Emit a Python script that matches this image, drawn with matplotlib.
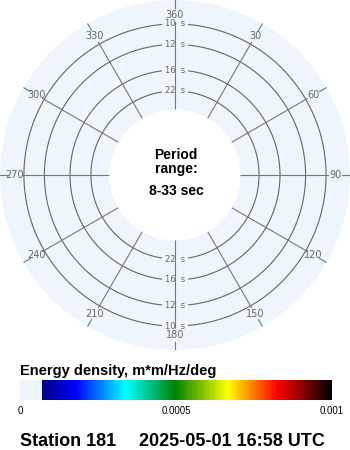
import numpy as np
import matplotlib
matplotlib.use("Agg")
import matplotlib.pyplot as plt
from matplotlib.colors import LinearSegmentedColormap, Normalize
from matplotlib.cm import ScalarMappable

# Data
ring_periods = [10, 12, 16, 22]          # seconds
period_min, period_max = 8.37, 33        # outer edge / inner hole
range_text = '8-33 sec'
spoke_angles = [0, 30, 60, 90, 120, 150, 180, 210, 240, 270, 300, 330]
spoke_labels = ['360', '30', '60', '90', '120', '150', '180', '210', '240', '270', '300', '330']
cbar_ticks = [0, 0.0005, 0.001]
cbar_ticklabels = ['0', '0.0005', '0.001']
cbar_min, cbar_max = 0.0, 0.001
cbar_stops = [(0.0, '#eef5fd'), (0.0675, '#eef5fd'), (0.068, '#000080'), (0.177, '#0000ff'),
              (0.338, '#00ffff'), (0.498, '#008000'), (0.666, '#ffff00'),
              (0.826, '#ff0000'), (1.0, '#000000')]
station = 'Station 181'
timestamp = '2025-05-01 16:58 UTC'

bg = '#eef5fd'
W, H = 350, 450

fig = plt.figure(figsize=(3.5, 4.5), dpi=100)

# polar axes: radius is frequency (1/period)
R_px = 175.0
fmax = 1.0 / period_min
fmin = 1.0 / period_max
ro = -0.02296

ax = fig.add_axes([0, 100 / H, 1, 350 / H], projection='polar')
ax.set_theta_zero_location('N')
ax.set_theta_direction(-1)
ax.set_rorigin(ro)
ax.set_ylim(fmin, fmax)
ax.axis('off')

theta = np.linspace(0, 2 * np.pi, 721)
ax.fill_between(theta, fmin, fmax, color=bg, lw=0, zorder=0)


def px2r(p):
    return ro + p * (fmax - ro) / R_px


for T in ring_periods:
    ax.plot(theta, np.full_like(theta, 1.0 / T), color='#666666', lw=0.8, zorder=2)
    for a in (0, np.pi):
        ax.text(a, 1.0 / T, f'{T}  s', ha='center', va='center', fontsize=6,
                color='#666666', zorder=3,
                bbox=dict(boxstyle='square,pad=0.3', fc=bg, ec='none'))

for ang, lab in zip(spoke_angles, spoke_labels):
    t = np.deg2rad(ang)
    ax.plot([t, t], [fmin, px2r(153)], color='#777777', lw=0.8, zorder=4)
    ax.plot([t, t], [px2r(167), px2r(175)], color='#777777', lw=0.8, zorder=4)
    ax.text(t, px2r(160), lab, ha='center', va='center', fontsize=7,
            color='#666666', zorder=5)

# center text
cx = 176 / W
fig.text(cx, 1 - 159 / H, 'Period', ha='center', va='baseline', fontsize=10,
         fontweight='bold', family='Liberation Sans')
fig.text(cx, 1 - 173 / H, 'range:', ha='center', va='baseline', fontsize=10,
         fontweight='bold', family='Liberation Sans')
fig.text(cx, 1 - 195 / H, range_text, ha='center',
         va='baseline', fontsize=10, fontweight='bold', family='Liberation Sans')

# colorbar
cmap = LinearSegmentedColormap.from_list('wave', cbar_stops, N=256)
cax = fig.add_axes([20 / W, 1 - 400 / H, 312 / W, 20 / H])
cb = fig.colorbar(ScalarMappable(norm=Normalize(cbar_min, cbar_max), cmap=cmap),
                  cax=cax, orientation='horizontal')
cb.outline.set_visible(False)
cb.set_ticks(cbar_ticks)
cb.set_ticklabels(cbar_ticklabels)
cax.tick_params(length=0, pad=4, labelsize=7)
for t in cax.get_xticklabels():
    t.set_family('Liberation Sans')

fig.text(20 / W, 1 - 375 / H, 'Energy density, m*m/Hz/deg', ha='left', va='baseline',
         fontsize=10.5, fontweight='bold', family='Liberation Sans')
fig.text(20 / W, 1 - 446 / H, station, ha='left', va='baseline',
         fontsize=13, fontweight='bold', family='Liberation Sans')
fig.text(139 / W, 1 - 446 / H, timestamp, ha='left', va='baseline',
         fontsize=13, fontweight='bold', family='Liberation Sans')

fig.savefig('out.png', dpi=100, facecolor='white')
